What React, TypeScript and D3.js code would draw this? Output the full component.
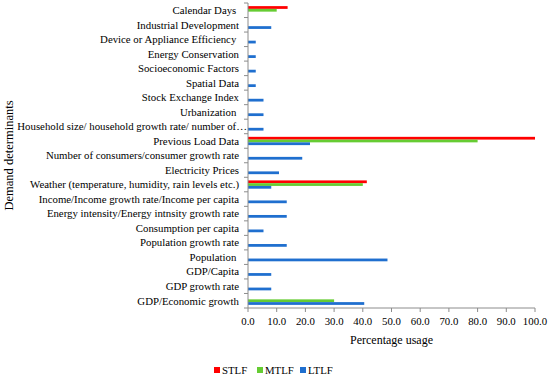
import React from "react";
import * as d3 from "d3";

const categories = [
  "Calendar Days\u00A0",
  "Industrial Development",
  "Device or Appliance Efficiency\u00A0",
  "Energy Conservation",
  "Socioeconomic Factors",
  "Spatial Data",
  "Stock Exchange Index",
  "Urbanization\u00A0",
  "Household size/ household growth rate/ number of\u2026",
  "Previous Load Data",
  "Number of consumers/consumer growth rate",
  "Electricity Prices",
  "Weather (temperature, humidity, rain levels etc.)",
  "Income/Income growth rate/Income per capita",
  "Energy intensity/Energy intnsity growth rate",
  "Consumption per capita",
  "Population growth rate",
  "Population\u00A0",
  "GDP/Capita",
  "GDP growth rate",
  "GDP/Economic growth",
];

const stlf = [13.8, 0, 0, 0, 0, 0, 0, 0, 0, 100, 0, 0, 41.4, 0, 0, 0, 0, 0, 0, 0, 0];
const mtlf = [10, 0, 0, 0, 0, 0, 0, 0, 0, 80, 0, 0, 40, 0, 0, 0, 0, 0, 0, 0, 30];
const ltlf = [0, 8.1, 2.7, 2.7, 2.7, 2.7, 5.4, 5.4, 5.4, 21.6, 18.9, 10.8, 8.1, 13.5, 13.5, 5.4, 13.5, 48.6, 8.1, 8.1, 40.5];

const seriesNames = ["STLF", "MTLF", "LTLF"];
const seriesColors = ["#FF0000", "#66CC33", "#1F6FCF"];
const xTicks = [0, 10, 20, 30, 40, 50, 60, 70, 80, 90, 100];

export default function App() {
  const W = 550, H = 377;
  const left = 248, right = 535, top = 3, bottom = 308;
  const x = d3.scaleLinear().domain([0, 100]).range([left, right]);
  const y = d3.scaleBand<string>().domain(categories).range([top, bottom]);
  const bw = y.bandwidth();
  const barH = bw * 0.19;
  const groupH = barH * 3;
  const inner = d3.scaleBand<string>().domain(seriesNames).range([0, groupH]);
  const all = [stlf, mtlf, ltlf];
  const axisColor = "#8C8C8C";

  return (
    <svg width={W} height={H} style={{ position: "absolute", left: 0, top: 0, fontFamily: "Liberation Serif" }}>
      <rect width={W} height={H} fill="#fff" />
      {categories.map((c, i) => (
        <g key={c}>
          {all.map((vals, s) =>
            vals[i] > 0 ? (
              <rect
                key={s}
                x={x(0)}
                y={(y(c) as number) + (bw - groupH) / 2 + (inner(seriesNames[s]) as number)}
                width={x(vals[i]) - x(0)}
                height={inner.bandwidth()}
                fill={seriesColors[s]}
              />
            ) : null
          )}
          <text
            x={c.endsWith("\u2026") ? left - 1 : left - 9}
            y={(y(c) as number) + bw / 2}
            dy="0.35em"
            textAnchor="end"
            fontSize={10.8}
            fill="#000"
          >
            {c}
          </text>
        </g>
      ))}
      <line x1={left} x2={left} y1={top} y2={bottom} stroke={axisColor} strokeWidth={1} />
      {d3.range(categories.length + 1).map((k) => {
        const yy = top + k * bw;
        return <line key={k} x1={left - 4} x2={left} y1={yy} y2={yy} stroke={axisColor} strokeWidth={1} />;
      })}
      <line x1={left} x2={right} y1={bottom} y2={bottom} stroke={axisColor} strokeWidth={1} />
      {xTicks.map((t) => (
        <g key={t}>
          <line x1={x(t)} x2={x(t)} y1={bottom} y2={bottom + 4} stroke={axisColor} strokeWidth={1} />
          <text x={x(t)} y={bottom + 17} textAnchor="middle" fontSize={10.8} fill="#000">
            {t.toFixed(1)}
          </text>
        </g>
      ))}
      <text x={(left + right) / 2} y={bottom + 36} textAnchor="middle" fontSize={12} fill="#000">
        Percentage usage
      </text>
      <text
        transform={`translate(13, ${(top + bottom) / 2}) rotate(-90)`}
        textAnchor="middle"
        fontSize={12.5}
        fill="#000"
      >
        Demand determinants
      </text>
      {seriesNames.map((n, s) => {
        const lx = [214, 257, 300][s];
        return (
          <g key={n}>
            <rect x={lx} y={367} width={6} height={6} fill={seriesColors[s]} />
            <text x={lx + 8} y={370} dy="0.35em" fontSize={10.8} fill="#000">
              {n}
            </text>
          </g>
        );
      })}
    </svg>
  );
}
